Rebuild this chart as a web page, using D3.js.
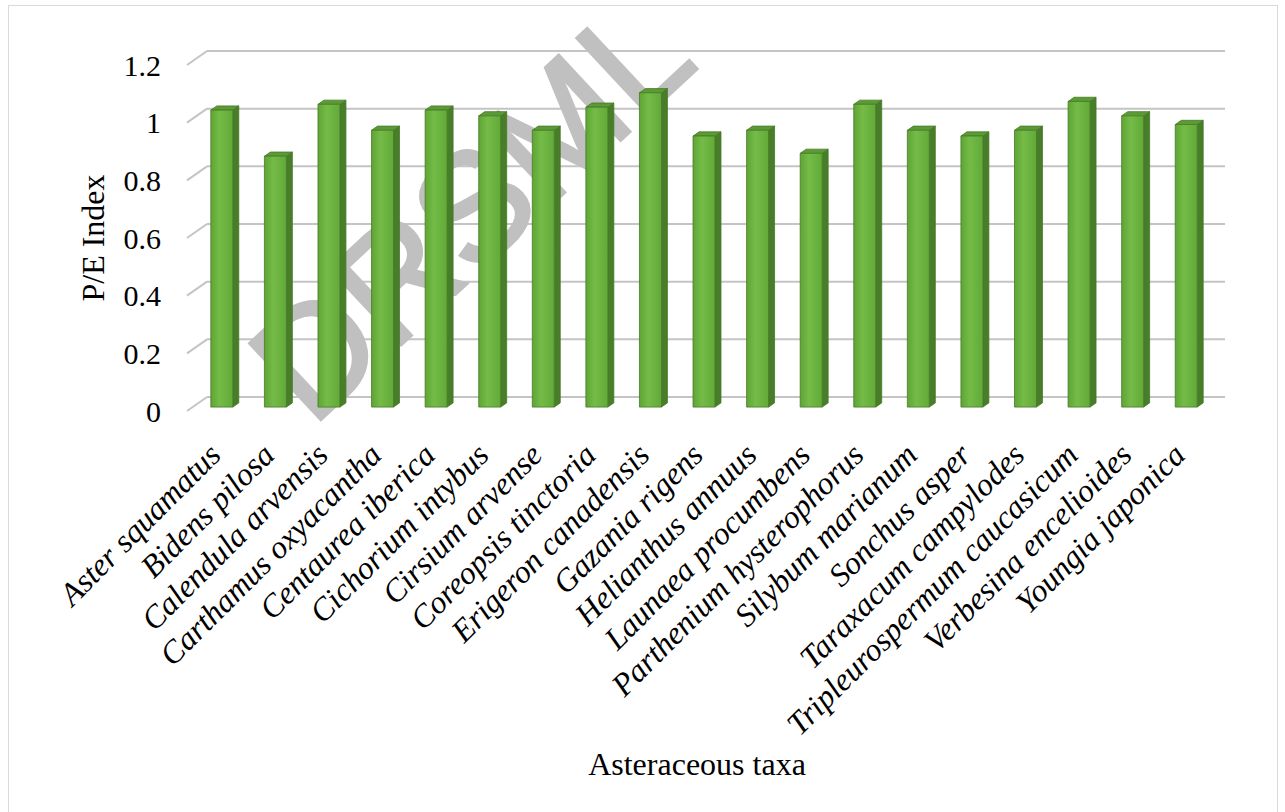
<!DOCTYPE html>
<html>
<head>
<meta charset="utf-8">
<script src="https://cdn.jsdelivr.net/npm/d3@7"></script>
<style>
  body { margin: 0; background: #fff; }
  svg { display: block; }
</style>
</head>
<body>
<svg></svg>
<script>
// data
let categories = ['Aster squamatus', 'Bidens pilosa', 'Calendula arvensis', 'Carthamus oxyacantha',
  'Centaurea iberica', 'Cichorium intybus', 'Cirsium arvense', 'Coreopsis tinctoria',
  'Erigeron canadensis', 'Gazania rigens', 'Helianthus annuus', 'Launaea procumbens',
  'Parthenium hysterophorus', 'Silybum marianum', 'Sonchus asper', 'Taraxacum campylodes',
  'Tripleurospermum caucasicum', 'Verbesina encelioides', 'Youngia japonica'];
let peIndex = [1.03, 0.87, 1.05, 0.96, 1.03, 1.01, 0.96, 1.04, 1.09, 0.94,
  0.96, 0.88, 1.05, 0.96, 0.94, 0.96, 1.06, 1.01, 0.98];
let yTicks = [0, 0.2, 0.4, 0.6, 0.8, 1, 1.2];
let yTickLabels = ['0', '0.2', '0.4', '0.6', '0.8', '1', '1.2'];

let svgWidth = 1285,
    svgHeight = 812;

// back wall of the 3d plot, front edge is shifted by (depthX, depthY)
let wallLeft = 207, wallRight = 1225, wallBottom = 397, wallTop = 51;
let depthX = -20, depthY = 14;
let zFront = 0.72, zBack = 0.42;

let serif = '"Times New Roman", "Liberation Serif", serif';

let svg = d3.select('svg')
            .attr('width', svgWidth)
            .attr('height', svgHeight);

let xScale = d3.scaleBand()
               .domain(categories)
               .range([wallLeft, wallRight]);

let yScale = d3.scaleLinear()
               .domain([0, 1.2])
               .range([wallBottom, wallTop]);

let proj = (x, y, z) => [x + z * depthX, y + z * depthY];

// chart border
svg.append('rect')
   .attr('x', 8.5).attr('y', 5.5)
   .attr('width', 1269).attr('height', 830)
   .attr('fill', 'none')
   .attr('stroke', '#d9d9d9')
   .attr('stroke-width', 1);

// gridlines on the back wall + diagonal to the front
let grid = svg.append('g').attr('stroke', '#c4c4c4').attr('stroke-width', 2).attr('fill', 'none');
grid.selectAll('line.back')
    .data(yTicks)
    .enter()
    .append('line')
    .attr('x1', wallLeft).attr('x2', wallRight)
    .attr('y1', d => yScale(d)).attr('y2', d => yScale(d));
grid.selectAll('line.side')
    .data(yTicks)
    .enter()
    .append('line')
    .attr('x1', wallLeft + depthX).attr('y1', d => yScale(d) + depthY)
    .attr('x2', wallLeft).attr('y2', d => yScale(d));

// y tick labels
svg.selectAll('text.ytick')
   .data(yTicks)
   .enter()
   .append('text')
   .attr('class', 'ytick')
   .attr('x', 161)
   .attr('y', d => yScale(d) + depthY)
   .attr('dy', '0.35em')
   .attr('text-anchor', 'end')
   .style('font-family', serif)
   .style('font-size', '30px')
   .text((d, i) => yTickLabels[i]);

// watermark (behind the bars)
svg.append('text')
   .attr('transform', 'translate(470,208) rotate(-43)')
   .attr('text-anchor', 'middle')
   .attr('dy', '0.35em')
   .style('font-family', '"Liberation Sans", Arial, sans-serif')
   .style('font-size', '152px')
   .attr('fill', '#c0c0c0')
   .attr('stroke', '#c0c0c0')
   .attr('stroke-width', 3)
   .text('DRSML');

// gradient for the front faces
let defs = svg.append('defs');
let grad = defs.append('linearGradient').attr('id', 'front').attr('x1', 0).attr('x2', 1).attr('y1', 0).attr('y2', 0);
grad.append('stop').attr('offset', '0%').attr('stop-color', '#5ea535');
grad.append('stop').attr('offset', '40%').attr('stop-color', '#74bb47');
grad.append('stop').attr('offset', '100%').attr('stop-color', '#62aa38');

let bw = xScale.bandwidth();
let barX0 = c => xScale(c) + bw * 0.34;
let barX1 = c => xScale(c) + bw * 0.75;
let poly = pts => 'M' + pts.map(p => p.join(',')).join('L') + 'Z';

let bars = svg.selectAll('g.bar')
              .data(categories)
              .enter()
              .append('g')
              .attr('class', 'bar')
              .attr('stroke', '#467a27')
              .attr('stroke-width', 0.8)
              .attr('stroke-linejoin', 'round');

// side face
bars.append('path')
    .attr('fill', '#487d29')
    .attr('d', (c, i) => poly([
        proj(barX1(c), yScale(peIndex[i]), zFront),
        proj(barX1(c), yScale(peIndex[i]), zBack),
        proj(barX1(c), yScale(0), zBack),
        proj(barX1(c), yScale(0), zFront)]));

// top face
bars.append('path')
    .attr('fill', '#5c9a36')
    .attr('d', (c, i) => poly([
        proj(barX0(c), yScale(peIndex[i]), zFront),
        proj(barX1(c), yScale(peIndex[i]), zFront),
        proj(barX1(c), yScale(peIndex[i]), zBack),
        proj(barX0(c), yScale(peIndex[i]), zBack)]));

// front face
bars.append('path')
    .attr('fill', 'url(#front)')
    .attr('d', (c, i) => poly([
        proj(barX0(c), yScale(peIndex[i]), zFront),
        proj(barX1(c), yScale(peIndex[i]), zFront),
        proj(barX1(c), yScale(0), zFront),
        proj(barX0(c), yScale(0), zFront)]));

// category labels, rotated 45 degrees, ending under each bar
svg.selectAll('text.xtick')
   .data(categories)
   .enter()
   .append('text')
   .attr('class', 'xtick')
   .attr('transform', c => {
       let p = proj((barX0(c) + barX1(c)) / 2, yScale(0), zFront);
       return `translate(${p[0] - 15},${p[1] + 34}) rotate(-45)`;
   })
   .attr('text-anchor', 'end')
   .attr('dy', '0.7em')
   .style('font-family', serif)
   .style('font-style', 'italic')
   .style('font-size', '32px')
   .text(c => c);

// axis titles
svg.append('text')
   .attr('transform', 'translate(104,238) rotate(-90)')
   .attr('text-anchor', 'middle')
   .style('font-family', serif)
   .style('font-size', '32px')
   .text('P/E Index');

svg.append('text')
   .attr('x', 697)
   .attr('y', 775)
   .attr('text-anchor', 'middle')
   .style('font-family', serif)
   .style('font-size', '32px')
   .text('Asteraceous taxa');
</script>
</body>
</html>
